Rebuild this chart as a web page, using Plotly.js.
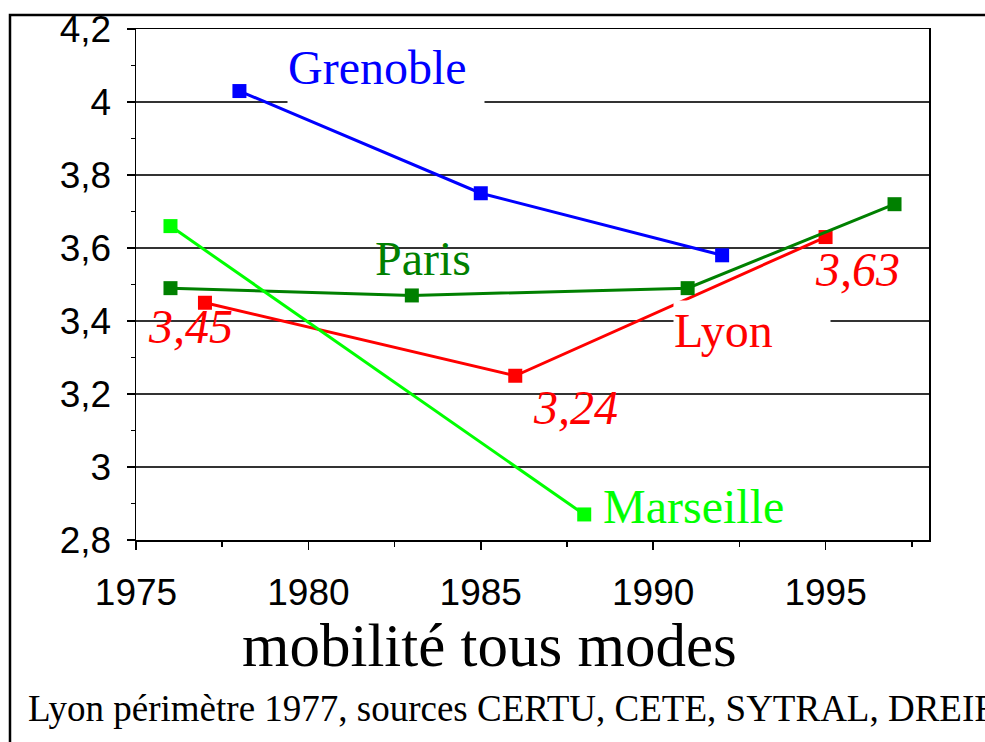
<!DOCTYPE html>
<html>
<head>
<meta charset="utf-8">
<script src="https://cdn.plot.ly/plotly-3.0.1.min.js"></script>
<style>html,body{margin:0;padding:0;background:#fff;}#chart{width:985px;height:742px;}</style>
</head>
<body>
<div id="chart"></div>
<script>
// ---- data ----
const lyonYears = [1977, 1986, 1995];
const lyonValues = [3.45, 3.25, 3.63];
const lyonValueLabels = ['3,45', '3,24', '3,63'];
const parisYears = [1976, 1983, 1991, 1997];
const parisValues = [3.49, 3.47, 3.49, 3.72];
const grenobleYears = [1978, 1985, 1992];
const grenobleValues = [4.03, 3.75, 3.58];
const marseilleYears = [1976, 1988];
const marseilleValues = [3.66, 2.87];
const seriesNames = ['Lyon', 'Paris', 'Grenoble', 'Marseille'];
const xTitle = 'mobilité tous modes';
const footnote = 'Lyon périmètre 1977, sources CERTU, CETE, SYTRAL, DREIF';

const colors = {Lyon: '#ff0000', Paris: '#008000', Grenoble: '#0000ff', Marseille: '#00ff00'};
const serif = 'Liberation Serif, Times New Roman, serif';
const sans = 'Liberation Sans, Arial, sans-serif';

function tr(name, xs, ys) {
  return {
    type: 'scatter', mode: 'lines+markers', name: name, x: xs, y: ys,
    line: {color: colors[name], width: 3},
    marker: {color: colors[name], symbol: 'square', size: 14},
    hoverinfo: 'x+y', xaxis: 'x', yaxis: 'y'
  };
}
const data = [
  tr('Lyon', lyonYears, lyonValues),
  tr('Paris', parisYears, parisValues),
  tr('Grenoble', grenobleYears, grenobleValues),
  tr('Marseille', marseilleYears, marseilleValues)
];

const xr = [1975, 1998], yr = [2.8, 4.2];
const labelFont = (c, s) => ({family: serif, size: s || 48, color: c});

const annotations = [
  {xref: 'x', yref: 'y', x: 1982.25, y: 4.096, text: seriesNames[2], showarrow: false,
   font: labelFont(colors.Grenoble), bgcolor: '#ffffff', width: 196, height: 72, align: 'left', borderpad: 0},
  {xref: 'x', yref: 'y', x: 1983.32, y: 3.570, text: seriesNames[1], showarrow: false,
   font: labelFont(colors.Paris)},
  {xref: 'x', yref: 'y', x: 1992.87, y: 3.375, text: seriesNames[0], showarrow: false,
   font: labelFont(colors.Lyon), bgcolor: '#ffffff', width: 156, height: 58, align: 'left', borderpad: 0},
  {xref: 'x', yref: 'y', x: 1991.16, y: 2.893, text: seriesNames[3], showarrow: false,
   font: labelFont(colors.Marseille)},
  {xref: 'x', yref: 'y', x: 1976.57, y: 3.384, text: '<i>' + lyonValueLabels[0] + '</i>', showarrow: false,
   font: labelFont(colors.Lyon)},
  {xref: 'x', yref: 'y', x: 1987.76, y: 3.162, text: '<i>' + lyonValueLabels[1] + '</i>', showarrow: false,
   font: labelFont(colors.Lyon)},
  {xref: 'x', yref: 'y', x: 1995.94, y: 3.542, text: '<i>' + lyonValueLabels[2] + '</i>', showarrow: false,
   font: labelFont(colors.Lyon)},
  {xref: 'paper', yref: 'paper', x: 0.4464, y: -0.2055, text: xTitle, showarrow: false,
   xanchor: 'center', yanchor: 'middle', font: {family: serif, size: 61, color: '#000'}},
  {xref: 'paper', yref: 'paper', x: -0.1387, y: -0.3288, text: footnote, showarrow: false,
   xanchor: 'left', yanchor: 'middle', font: {family: serif, size: 37, color: '#000'}}
];

const layout = {
  width: 985, height: 742,
  margin: {l: 136, r: 56, t: 29, b: 202, pad: 0},
  paper_bgcolor: '#ffffff', plot_bgcolor: '#ffffff',
  showlegend: false,
  separators: ', ',
  xaxis: {
    range: xr, tick0: 1975, dtick: 5, ticks: 'outside', ticklen: 8, tickwidth: 1.5, tickcolor: '#000',
    minor: {dtick: 2.5, tick0: 1975, ticks: 'outside', ticklen: 5, tickwidth: 1.5, tickcolor: '#000', showgrid: false},
    showgrid: false, zeroline: false, showline: true, linecolor: '#000', linewidth: 1.5, mirror: true,
    tickfont: {family: sans, size: 37, color: '#000'}, ticklabelstandoff: 11
  },
  xaxis2: {
    overlaying: 'x', matches: 'x', range: xr, tick0: 1975, dtick: 5, ticks: 'inside', ticklen: 9, tickwidth: 1.5, tickcolor: '#000',
    minor: {dtick: 2.5, tick0: 1975, ticks: 'inside', ticklen: 5, tickwidth: 1.5, tickcolor: '#000', showgrid: false},
    showgrid: false, zeroline: false, showline: false, showticklabels: false
  },
  yaxis: {
    range: yr, tick0: 2.8, dtick: 0.2, ticks: 'outside', ticklen: 8, tickwidth: 1.5, tickcolor: '#000',
    minor: {dtick: 0.1, tick0: 2.8, ticks: 'outside', ticklen: 4, tickwidth: 1.5, tickcolor: '#000', showgrid: false},
    showgrid: true, gridcolor: '#333333', gridwidth: 1.5, zeroline: false,
    showline: true, linecolor: '#000', linewidth: 1.5, mirror: true,
    tickfont: {family: sans, size: 37, color: '#000'}, ticklabelstandoff: 8
  },
  yaxis2: {
    overlaying: 'y', matches: 'y', range: yr, tick0: 2.8, dtick: 0.2, ticks: 'inside', ticklen: 9, tickwidth: 1.5, tickcolor: '#000',
    minor: {dtick: 0.1, tick0: 2.8, ticks: 'inside', ticklen: 5, tickwidth: 1.5, tickcolor: '#000', showgrid: false},
    showgrid: false, zeroline: false, showline: false, showticklabels: false
  },
  shapes: [
    {type: 'rect', xref: 'paper', yref: 'paper', x0: -0.1589, x1: 1.4, y0: -0.6, y1: 1.0274,
     line: {color: '#000', width: 2.5}, fillcolor: 'rgba(0,0,0,0)', layer: 'below'}
  ],
  annotations: annotations
};

Plotly.newPlot('chart', data, layout, {staticPlot: true, displayModeBar: false});
</script>
</body>
</html>
